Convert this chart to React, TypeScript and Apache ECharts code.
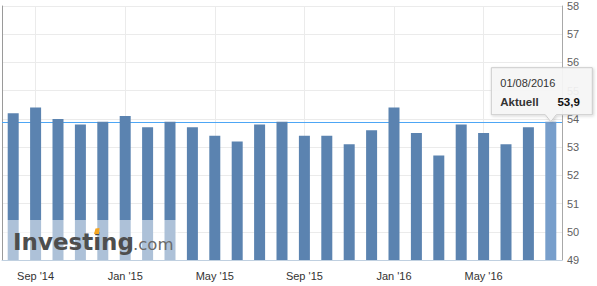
import React, { useEffect, useRef } from "react";
import * as echarts from "echarts";

const categories = [
  "Aug '14", "Sep '14", "Oct '14", "Nov '14", "Dec '14",
  "Jan '15", "Feb '15", "Mar '15", "Apr '15", "May '15", "Jun '15", "Jul '15",
  "Aug '15", "Sep '15", "Oct '15", "Nov '15", "Dec '15",
  "Jan '16", "Feb '16", "Mar '16", "Apr '16", "May '16", "Jun '16", "Jul '16", "Aug '16",
];
const values = [
  54.2, 54.4, 54.0, 53.8, 53.9,
  54.1, 53.7, 53.9, 53.7, 53.4, 53.2, 53.8,
  53.9, 53.4, 53.4, 53.1, 53.6,
  54.4, 53.5, 52.7, 53.8, 53.5, 53.1, 53.7, 53.9,
];
const yMin = 49;
const yMax = 58;
const yStep = 1;
const currentValue = 53.9;
const tooltipDate = "01/08/2016";
const tooltipSeries = "Aktuell";
const logoMain = "Investing";
const logoSuffix = ".com";

const FONT = "'Liberation Sans', Arial, sans-serif";
const BAR = "#5b83b0";
const BAR_LAST = "#779ecb";
const LINE = "#4da6f5";

export default function App() {
  const ref = useRef<HTMLDivElement>(null);
  useEffect(() => {
    if (!ref.current) return;
    const chart = echarts.init(ref.current, null, { renderer: "svg" });
    const labelEvery = (i: number) => i % 4 === 1;
    const last = values.length - 1;
    chart.setOption({
      animation: false,
      grid: { left: 2, right: 35, top: 6, bottom: 26, containLabel: false },
      xAxis: {
        type: "category",
        data: categories,
        boundaryGap: true,
        axisLine: { show: true, onZero: false, lineStyle: { color: "#c0d0e0", width: 1 } },
        axisTick: { show: false },
        axisLabel: {
          interval: labelEvery,
          color: "#333333",
          fontSize: 11,
          fontFamily: FONT,
          margin: 10,
        },
        splitLine: {
          show: true,
          interval: labelEvery,
          alignWithLabel: true,
          lineStyle: { color: "#ebebeb", width: 1 },
        },
      },
      yAxis: [
        {
          type: "value",
          position: "right",
          min: yMin,
          max: yMax,
          interval: yStep,
          axisLine: { show: true, lineStyle: { color: "#a8a8a8" } },
          axisTick: { show: false },
          axisLabel: { color: "#606060", fontSize: 11, fontFamily: FONT, margin: 5 },
          splitLine: { show: true, lineStyle: { color: "#ebebeb" } },
        },
        {
          type: "value",
          position: "left",
          min: yMin,
          max: yMax,
          interval: yStep,
          axisLine: { show: true, lineStyle: { color: "#9a9a9a" } },
          axisTick: { show: false },
          axisLabel: { show: false },
          splitLine: { show: false },
        },
      ],
      series: [
        {
          type: "bar",
          yAxisIndex: 0,
          z: 2,
          barWidth: 11,
          data: values.map((v, i) =>
            i === last ? { value: v, itemStyle: { color: BAR_LAST } } : v
          ),
          itemStyle: { color: BAR },
        },
      ],
    });

    const [px, py] = chart.convertToPixel({ seriesIndex: 0 }, [last, values[last]]) as number[];
    const x0c = chart.convertToPixel({ xAxisIndex: 0 }, categories[0]) as number;
    const x1c = chart.convertToPixel({ xAxisIndex: 0 }, categories[1]) as number;
    const band = x1c - x0c;
    const lineY = chart.convertToPixel({ yAxisIndex: 0 }, currentValue) as number;
    const lineX0 = x0c - band / 2;
    const lineX1 = px + band / 2;
    const L = px - 59.5, R = px + 41.5, T = py - 54, B = py - 7;
    const fmt = values[last].toFixed(1).replace(".", ",");

    chart.setOption({
      graphic: [
        {
          type: "line",
          z: 1,
          silent: true,
          shape: { x1: lineX0, y1: Math.round(lineY) + 0.5, x2: lineX1, y2: Math.round(lineY) + 0.5 },
          style: { stroke: LINE, lineWidth: 1 },
        },
        {
          type: "rect",
          z: 10,
          silent: true,
          shape: { x: 3, y: 220, width: 175, height: 40 },
          style: { fill: "rgba(255,255,255,0.5)" },
        },
        {
          type: "text",
          z: 11,
          x: 13,
          y: 242,
          style: {
            text: logoMain,
            font: "bold 23px 'DejaVu Sans'",
            fill: "#4e4e4e",
            verticalAlign: "middle",
            align: "left",
          },
        },
        {
          type: "text",
          z: 11,
          x: 133,
          y: 244,
          style: {
            text: logoSuffix,
            font: "16.5px 'DejaVu Sans'",
            fill: "#6a6a6a",
            verticalAlign: "middle",
            align: "left",
          },
        },
        {
          type: "polygon",
          z: 12,
          shape: { points: [[94, 234], [95.5, 228.5], [99.5, 228], [99, 234]] },
          style: { fill: "#f5a623" },
        },
        {
          type: "polygon",
          z: 20,
          shape: {
            points: [
              [L, T], [R, T], [R, B], [px + 5.5, B], [px, py], [px - 5.5, B], [L, B],
            ],
          },
          style: {
            fill: "rgba(247,247,247,0.92)",
            stroke: "#cccccc",
            lineWidth: 1,
            shadowBlur: 3,
            shadowOffsetX: 1,
            shadowOffsetY: 1,
            shadowColor: "rgba(0,0,0,0.18)",
          },
        },
        {
          type: "text",
          z: 21,
          x: px - 50.5,
          y: py - 39,
          style: { text: tooltipDate, font: `11px ${FONT}`, fill: "#333333", verticalAlign: "middle", align: "left" },
        },
        {
          type: "text",
          z: 21,
          x: px - 50.5,
          y: py - 19.5,
          style: { text: tooltipSeries, font: `bold 11.5px ${FONT}`, fill: "#333333", verticalAlign: "middle", align: "left" },
        },
        {
          type: "text",
          z: 21,
          x: px + 29,
          y: py - 19.5,
          style: { text: fmt, font: `bold 11.5px ${FONT}`, fill: "#111111", verticalAlign: "middle", align: "right" },
        },
      ],
    });

    return () => chart.dispose();
  }, []);

  return (
    <div
      ref={ref}
      style={{ position: "absolute", left: 0, top: 0, width: 597, height: 286 }}
    />
  );
}
